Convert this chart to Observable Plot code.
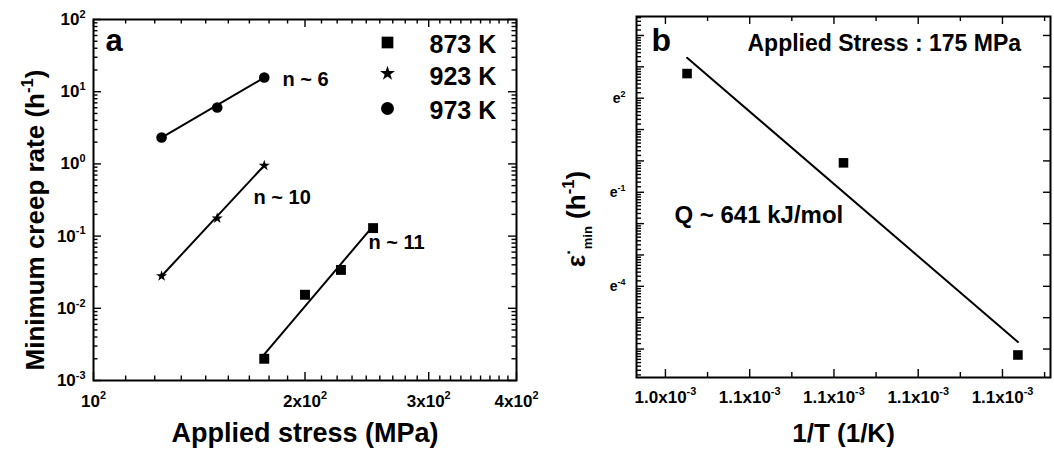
<!DOCTYPE html>
<html><head><meta charset="utf-8">
<script src="https://cdn.jsdelivr.net/npm/d3@7"></script>
<script src="https://cdn.jsdelivr.net/npm/@observablehq/plot@0.6"></script>
<style>
body{margin:0;background:#fff;}
#wrap{position:relative;width:1054px;height:455px;overflow:hidden;background:#fff;}
#wrap svg{position:absolute;top:0;}
</style></head><body><div id="wrap"></div>
<script>
// ---------- Panel a: minimum creep rate vs applied stress ----------
const stress873 = [175, 200, 225, 250];
const rate873   = [0.0020, 0.0154, 0.034, 0.129];
const stress923 = [125, 150, 175];
const rate923   = [0.028, 0.177, 0.95];
const stress973 = [125, 150, 175];
const rate973   = [2.32, 6.04, 15.7];
const fitStress873 = [175, 247];
const fitRate873   = [0.0023, 0.12];
const fitStress923 = [125, 175];
const fitRate923   = [0.028, 0.95];
const fitStress973 = [125, 175];
const fitRate973   = [2.32, 15.7];
const legendLabels  = ["873 K", "923 K", "973 K"];
const legendSymbols = ["square", "star", "circle"];
const slopeLabels   = ["n ~ 6", "n ~ 10", "n ~ 11"];
const xTicksA      = [100, 200, 300, 400];
const xTickLabelsA = ["10^{2}", "2x10^{2}", "3x10^{2}", "4x10^{2}"];
const yTicksA      = [1e-3, 1e-2, 1e-1, 1, 10, 100];
const yTickLabelsA = ["10^{-3}", "10^{-2}", "10^{-1}", "10^{0}", "10^{1}", "10^{2}"];

// ---------- Panel b: Arrhenius plot at 175 MPa ----------
const invT       = [1.0277e-3, 1.0834e-3, 1.1455e-3];
const rate175    = [16.2, 0.94, 0.00205];
const fitInvT    = [1.0277e-3, 1.1455e-3];
const fitRate175 = [26.8, 0.0031];
const xTicksB      = [1.02e-3, 1.05e-3, 1.08e-3, 1.11e-3, 1.14e-3];
const xTickLabelsB = ["1.0x10^{-3}", "1.1x10^{-3}", "1.1x10^{-3}", "1.1x10^{-3}", "1.1x10^{-3}"];
const yTickExpB    = [2, -1, -4];
const yTickLabelsB = ["e^{2}", "e^{-1}", "e^{-4}"];

// ---------- helpers ----------
const FONT = "'Liberation Sans', Arial, Helvetica, sans-serif";
const rows = (xs, ys) => xs.map((x, i) => ({x, y: ys[i]}));
const tickStyle = {stroke: "black", strokeWidth: 1.4};
const tBottom = (v, len, fh) => Plot.tickX(v, {x: d => d, insetTop: fh - len, ...tickStyle});
const tTop    = (v, len, fh) => Plot.tickX(v, {x: d => d, insetBottom: fh - len, ...tickStyle});
const tLeft   = (v, len, fw) => Plot.tickY(v, {y: d => d, insetRight: fw - len, ...tickStyle});
const tRight  = (v, len, fw) => Plot.tickY(v, {y: d => d, insetLeft: fw - len, ...tickStyle});
const label = (txt, o) => Plot.text([txt], {text: d => d, fill: "black", ...o});
const findLabel = (ticks, labels) => d => {
  const i = ticks.findIndex(v => Math.abs(v - d) <= 1e-9 * Math.abs(v));
  return i < 0 ? "" : labels[i];
};

function richify(root) {
  root.querySelectorAll("text").forEach(t => {
    const s = t.textContent;
    if (!/[\^_]\{/.test(s)) return;
    const base = parseFloat(getComputedStyle(t).fontSize);
    while (t.firstChild) t.removeChild(t.firstChild);
    const re = /([\^_])\{([^}]*)\}/g;
    let last = 0, cur = 0, m;
    const add = (str, off, scale) => {
      if (!str) return;
      const ts = document.createElementNS("http://www.w3.org/2000/svg", "tspan");
      const d = off - cur;
      if (d) ts.setAttribute("dy", d.toFixed(2));
      if (scale) ts.setAttribute("font-size", (base * scale).toFixed(2));
      ts.textContent = str;
      t.appendChild(ts);
      cur = off;
    };
    while ((m = re.exec(s))) {
      add(s.slice(last, m.index), 0, 0);
      if (m[1] === "^") add(m[2], -0.42 * base, 0.64);
      else add(m[2], 0.28 * base, 0.5);
      last = re.lastIndex;
    }
    add(s.slice(last), 0, 0);
  });
}

// ---------- Panel a ----------
const A = {width: 530, height: 455, ml: 93, mr: 14, mt: 19, mb: 75};
const fwA = A.width - A.ml - A.mr, fhA = A.height - A.mt - A.mb;
const xMinorA = [];
for (let k = 0; k < 3; k++) for (let j = 1; j < 9; j++) xMinorA.push(xTicksA[k] + j * (xTicksA[k + 1] - xTicksA[k]) / 9);
const yMinorA = [];
for (let e = -3; e < 2; e++) for (let j = 2; j < 10; j++) yMinorA.push(j * Math.pow(10, e));

const legendDy = [23, 54, 89];
const legendTextDy = [33, 65, 99];
const legendR = [6.6, 4.7, 6.5];

const plotA = Plot.plot({
  width: A.width, height: A.height,
  marginLeft: A.ml, marginRight: A.mr, marginTop: A.mt, marginBottom: A.mb,
  style: {fontFamily: FONT, fontWeight: "bold", color: "black", background: "none", overflow: "visible"},
  x: {type: "log", domain: [100, 400]},
  y: {type: "log", domain: [1e-3, 100]},
  marks: [
    tBottom(xTicksA, 8, fhA), tBottom(xMinorA, 4.5, fhA),
    tTop(xTicksA, 8, fhA), tTop(xMinorA, 4.5, fhA),
    tLeft(yTicksA, 8, fwA), tLeft(yMinorA, 4.5, fwA),
    tRight(yTicksA, 8, fwA), tRight(yMinorA, 4.5, fwA),
    Plot.frame({stroke: "black", strokeWidth: 2}),
    Plot.axisX({ticks: xTicksA, tickFormat: findLabel(xTicksA, xTickLabelsA), tickSize: 0, tickPadding: 14, fontSize: 17, label: null}),
    Plot.axisY({ticks: yTicksA, tickFormat: findLabel(yTicksA, yTickLabelsA), tickSize: 0, tickPadding: 8, fontSize: 17, label: null}),
    Plot.line(rows(fitStress973, fitRate973), {x: "x", y: "y", stroke: "black", strokeWidth: 2}),
    Plot.line(rows(fitStress923, fitRate923), {x: "x", y: "y", stroke: "black", strokeWidth: 2}),
    Plot.line(rows(fitStress873, fitRate873), {x: "x", y: "y", stroke: "black", strokeWidth: 2}),
    Plot.dot(rows(stress973, rate973), {x: "x", y: "y", symbol: "circle", r: 5.3, fill: "black", stroke: null}),
    Plot.dot(rows(stress923, rate923), {x: "x", y: "y", symbol: "star", r: 3.5, fill: "black", stroke: null}),
    Plot.dot(rows(stress873, rate873), {x: "x", y: "y", symbol: "square", r: 5.6, fill: "black", stroke: null}),
    ...legendLabels.flatMap((lab, i) => [
      Plot.dot([lab], {frameAnchor: "top-left", dx: 294, dy: legendDy[i], symbol: legendSymbols[i], r: legendR[i], fill: "black", stroke: null}),
      label(lab, {frameAnchor: "top-left", dx: 336, dy: legendTextDy[i], fontSize: 25, textAnchor: "start", lineAnchor: "bottom"})
    ]),
    label("a", {frameAnchor: "top-left", dx: 12, dy: 31, fontSize: 31, textAnchor: "start", lineAnchor: "bottom"}),
    label(slopeLabels[0], {frameAnchor: "top-left", dx: 189, dy: 66, fontSize: 20, textAnchor: "start", lineAnchor: "bottom"}),
    label(slopeLabels[1], {frameAnchor: "top-left", dx: 160, dy: 184, fontSize: 20, textAnchor: "start", lineAnchor: "bottom"}),
    label(slopeLabels[2], {frameAnchor: "top-left", dx: 275, dy: 229, fontSize: 20, textAnchor: "start", lineAnchor: "bottom"}),
    label("Applied stress (MPa)", {frameAnchor: "bottom", dy: 61, fontSize: 27, textAnchor: "middle", lineAnchor: "bottom"}),
    label("Minimum creep rate (h^{-1})", {frameAnchor: "left", dx: -50, dy: 20, rotate: -90, fontSize: 26, textAnchor: "middle", lineAnchor: "bottom"})
  ]
});

// ---------- Panel b ----------
const B = {width: 524, height: 455, ml: 106, mr: 4, mt: 16, mb: 78};
const fwB = B.width - B.ml - B.mr, fhB = B.height - B.mt - B.mb;
const xMinorB = xTicksB.map(v => v + (xTicksB[1] - xTicksB[0]) / 2);
const yMajorB = [], yMinorB = [];
for (let n = -7; n <= 4; n++) {
  const lo = Math.exp(n), hi = Math.exp(n + 1);
  if (lo >= 1e-3 && lo <= 100) yMajorB.push(lo);
  for (let j = 1; j < 9; j++) { const v = lo + j * (hi - lo) / 9; if (v >= 1e-3 && v <= 100) yMinorB.push(v); }
}
const yLabTicksB = yTickExpB.map(Math.exp);

const plotB = Plot.plot({
  width: B.width, height: B.height,
  marginLeft: B.ml, marginRight: B.mr, marginTop: B.mt, marginBottom: B.mb,
  style: {fontFamily: FONT, fontWeight: "bold", color: "black", background: "none", overflow: "visible"},
  x: {domain: [1.0097e-3, 1.1571e-3]},
  y: {type: "log", domain: [1e-3, 100], axis: null},
  marks: [
    tBottom(xTicksB, 8, fhB), tBottom(xMinorB, 5, fhB),
    tTop(xTicksB, 8, fhB), tTop(xMinorB, 5, fhB),
    tLeft(yMajorB, 8, fwB), tLeft(yMinorB, 5, fwB),
    tRight(yMajorB, 7, fwB),
    Plot.frame({stroke: "black", strokeWidth: 2}),
    Plot.axisX({ticks: xTicksB, tickFormat: findLabel(xTicksB, xTickLabelsB), tickSize: 0, tickPadding: 13, fontSize: 17, label: null}),
    Plot.text(yLabTicksB, {y: d => d, text: (d, i) => yTickLabelsB[i], frameAnchor: "left", dx: -11, textAnchor: "end", lineAnchor: "middle", fontSize: 14, fill: "black"}),
    Plot.line(rows(fitInvT, fitRate175), {x: "x", y: "y", stroke: "black", strokeWidth: 2}),
    Plot.dot(rows(invT, rate175), {x: "x", y: "y", symbol: "square", r: 5.4, fill: "black", stroke: null}),
    label("b", {frameAnchor: "top-left", dx: 15, dy: 34, fontSize: 32, textAnchor: "start", lineAnchor: "bottom"}),
    label("Applied Stress : 175 MPa", {frameAnchor: "top-left", dx: 111, dy: 34, fontSize: 23, textAnchor: "start", lineAnchor: "bottom"}),
    label("Q ~ 641 kJ/mol", {frameAnchor: "top-left", dx: 38, dy: 206, fontSize: 24, textAnchor: "start", lineAnchor: "bottom"}),
    label("1/T (1/K)", {frameAnchor: "bottom", dy: 64, fontSize: 26, textAnchor: "middle", lineAnchor: "bottom"}),
    label("ε^{·}_{min} (h^{-1})", {frameAnchor: "left", dx: -52, dy: 22, rotate: -90, fontSize: 26, textAnchor: "middle", lineAnchor: "bottom"})
  ]
});

const wrap = document.getElementById("wrap");
plotA.style.left = "0px";
plotB.style.left = "530px";
wrap.appendChild(plotB);
wrap.appendChild(plotA);
richify(plotA);
richify(plotB);
</script>
</body></html>
